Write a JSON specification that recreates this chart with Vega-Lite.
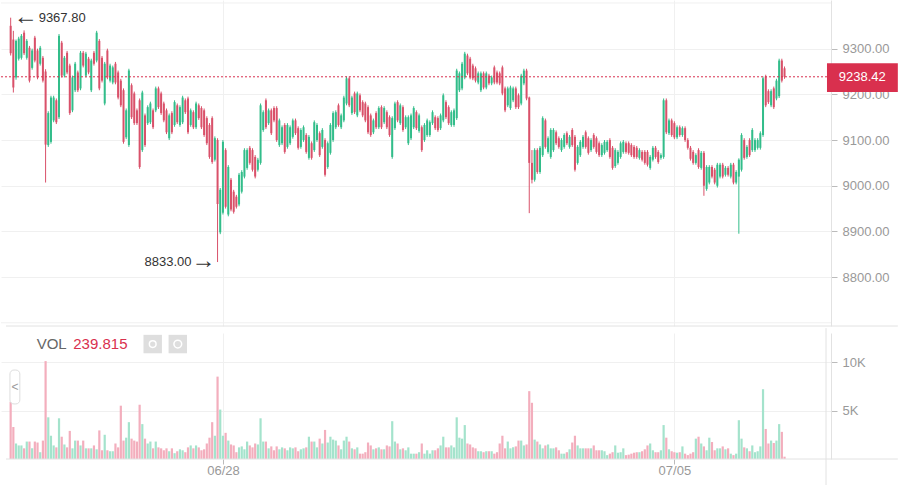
{
  "$schema": "https://vega.github.io/schema/vega-lite/v6.json",
  "padding": 0,
  "autosize": {"type": "pad"},
  "background": "white",
  "spacing": 0,
  "config": {
    "view": {"stroke": null},
    "font": "Liberation Sans",
    "axis": {"labelFont": "Liberation Sans", "labelColor": "#999999", "labelFontSize": 13, "gridColor": "#f0f0f0", "tickColor": "#bbbbbb", "domainColor": "#e2e2e2"}
  },
  "data": {"values": [
    {"t":"2020-06-24T17:00","o":9350,"h":9367.8,"l":9285,"c":9290,"v":5900},
    {"t":"2020-06-24T18:00","o":9320,"h":9339,"l":9204,"c":9215,"v":3300},
    {"t":"2020-06-24T19:00","o":9237,"h":9320,"l":9232,"c":9317,"v":1600},
    {"t":"2020-06-24T20:00","o":9278,"h":9326,"l":9274,"c":9322,"v":1400},
    {"t":"2020-06-24T21:00","o":9280,"h":9332,"l":9276,"c":9328,"v":1400},
    {"t":"2020-06-24T22:00","o":9335,"h":9340,"l":9286,"c":9290,"v":1100},
    {"t":"2020-06-24T23:00","o":9280,"h":9321,"l":9276,"c":9317,"v":1800},
    {"t":"2020-06-25T00:00","o":9302,"h":9306,"l":9226,"c":9230,"v":1800},
    {"t":"2020-06-25T01:00","o":9258,"h":9300,"l":9254,"c":9296,"v":1100},
    {"t":"2020-06-25T02:00","o":9324,"h":9328,"l":9270,"c":9274,"v":1800},
    {"t":"2020-06-25T03:00","o":9296,"h":9300,"l":9233,"c":9237,"v":1700},
    {"t":"2020-06-25T04:00","o":9267,"h":9306,"l":9263,"c":9302,"v":700},
    {"t":"2020-06-25T05:00","o":9280,"h":9284,"l":9226,"c":9230,"v":1900},
    {"t":"2020-06-25T06:00","o":9250,"h":9255,"l":9007,"c":9090,"v":10100},
    {"t":"2020-06-25T07:00","o":9089,"h":9163,"l":9085,"c":9159,"v":4300},
    {"t":"2020-06-25T08:00","o":9096,"h":9197,"l":9092,"c":9193,"v":2400},
    {"t":"2020-06-25T09:00","o":9143,"h":9197,"l":9139,"c":9193,"v":1400},
    {"t":"2020-06-25T10:00","o":9187,"h":9191,"l":9135,"c":9139,"v":1200},
    {"t":"2020-06-25T11:00","o":9150,"h":9332,"l":9146,"c":9328,"v":4200},
    {"t":"2020-06-25T12:00","o":9313,"h":9317,"l":9237,"c":9241,"v":2300},
    {"t":"2020-06-25T13:00","o":9241,"h":9284,"l":9237,"c":9280,"v":1500},
    {"t":"2020-06-25T14:00","o":9291,"h":9295,"l":9244,"c":9248,"v":1200},
    {"t":"2020-06-25T15:00","o":9263,"h":9267,"l":9155,"c":9159,"v":2900},
    {"t":"2020-06-25T16:00","o":9165,"h":9241,"l":9161,"c":9237,"v":1100},
    {"t":"2020-06-25T17:00","o":9209,"h":9271,"l":9205,"c":9267,"v":1900},
    {"t":"2020-06-25T18:00","o":9248,"h":9252,"l":9205,"c":9209,"v":1900},
    {"t":"2020-06-25T19:00","o":9213,"h":9295,"l":9209,"c":9291,"v":1400},
    {"t":"2020-06-25T20:00","o":9291,"h":9295,"l":9259,"c":9263,"v":1900},
    {"t":"2020-06-25T21:00","o":9241,"h":9293,"l":9237,"c":9289,"v":1100},
    {"t":"2020-06-25T22:00","o":9278,"h":9282,"l":9244,"c":9248,"v":1100},
    {"t":"2020-06-25T23:00","o":9209,"h":9278,"l":9205,"c":9274,"v":1100},
    {"t":"2020-06-26T00:00","o":9291,"h":9295,"l":9263,"c":9267,"v":1400},
    {"t":"2020-06-26T01:00","o":9274,"h":9339,"l":9270,"c":9335,"v":1000},
    {"t":"2020-06-26T02:00","o":9317,"h":9321,"l":9209,"c":9213,"v":2950},
    {"t":"2020-06-26T03:00","o":9280,"h":9284,"l":9226,"c":9230,"v":900},
    {"t":"2020-06-26T04:00","o":9180,"h":9271,"l":9176,"c":9267,"v":2500},
    {"t":"2020-06-26T05:00","o":9296,"h":9300,"l":9233,"c":9237,"v":900},
    {"t":"2020-06-26T06:00","o":9230,"h":9267,"l":9226,"c":9263,"v":800},
    {"t":"2020-06-26T07:00","o":9226,"h":9263,"l":9222,"c":9259,"v":800},
    {"t":"2020-06-26T08:00","o":9267,"h":9271,"l":9222,"c":9226,"v":1600},
    {"t":"2020-06-26T09:00","o":9248,"h":9252,"l":9189,"c":9193,"v":1200},
    {"t":"2020-06-26T10:00","o":9230,"h":9234,"l":9172,"c":9176,"v":5500},
    {"t":"2020-06-26T11:00","o":9209,"h":9213,"l":9092,"c":9096,"v":1900},
    {"t":"2020-06-26T12:00","o":9106,"h":9169,"l":9102,"c":9165,"v":2200},
    {"t":"2020-06-26T13:00","o":9089,"h":9256,"l":9085,"c":9252,"v":3800},
    {"t":"2020-06-26T14:00","o":9220,"h":9224,"l":9146,"c":9150,"v":2100},
    {"t":"2020-06-26T15:00","o":9202,"h":9206,"l":9133,"c":9137,"v":1900},
    {"t":"2020-06-26T16:00","o":9165,"h":9169,"l":9133,"c":9137,"v":1800},
    {"t":"2020-06-26T17:00","o":9187,"h":9191,"l":9037,"c":9041,"v":5600},
    {"t":"2020-06-26T18:00","o":9078,"h":9208,"l":9074,"c":9204,"v":3600},
    {"t":"2020-06-26T19:00","o":9154,"h":9158,"l":9085,"c":9089,"v":2100},
    {"t":"2020-06-26T20:00","o":9137,"h":9176,"l":9133,"c":9172,"v":1600},
    {"t":"2020-06-26T21:00","o":9139,"h":9184,"l":9135,"c":9180,"v":1800},
    {"t":"2020-06-26T22:00","o":9165,"h":9169,"l":9124,"c":9128,"v":1100},
    {"t":"2020-06-26T23:00","o":9165,"h":9217,"l":9161,"c":9213,"v":1800},
    {"t":"2020-06-27T00:00","o":9213,"h":9217,"l":9168,"c":9172,"v":1200},
    {"t":"2020-06-27T01:00","o":9202,"h":9206,"l":9155,"c":9159,"v":1100},
    {"t":"2020-06-27T02:00","o":9180,"h":9184,"l":9139,"c":9143,"v":900},
    {"t":"2020-06-27T03:00","o":9165,"h":9169,"l":9113,"c":9117,"v":1100},
    {"t":"2020-06-27T04:00","o":9104,"h":9158,"l":9100,"c":9154,"v":800},
    {"t":"2020-06-27T05:00","o":9159,"h":9163,"l":9113,"c":9117,"v":1100},
    {"t":"2020-06-27T06:00","o":9133,"h":9187,"l":9129,"c":9183,"v":600},
    {"t":"2020-06-27T07:00","o":9176,"h":9180,"l":9135,"c":9139,"v":800},
    {"t":"2020-06-27T08:00","o":9133,"h":9176,"l":9129,"c":9172,"v":1000},
    {"t":"2020-06-27T09:00","o":9139,"h":9197,"l":9135,"c":9193,"v":900},
    {"t":"2020-06-27T10:00","o":9187,"h":9191,"l":9157,"c":9161,"v":700},
    {"t":"2020-06-27T11:00","o":9191,"h":9195,"l":9113,"c":9117,"v":1200},
    {"t":"2020-06-27T12:00","o":9133,"h":9169,"l":9129,"c":9165,"v":1400},
    {"t":"2020-06-27T13:00","o":9161,"h":9165,"l":9124,"c":9128,"v":1100},
    {"t":"2020-06-27T14:00","o":9128,"h":9184,"l":9124,"c":9180,"v":1400},
    {"t":"2020-06-27T15:00","o":9176,"h":9180,"l":9144,"c":9148,"v":1200},
    {"t":"2020-06-27T16:00","o":9170,"h":9174,"l":9124,"c":9128,"v":900},
    {"t":"2020-06-27T17:00","o":9165,"h":9169,"l":9107,"c":9111,"v":1000},
    {"t":"2020-06-27T18:00","o":9148,"h":9152,"l":9089,"c":9093,"v":1600},
    {"t":"2020-06-27T19:00","o":9133,"h":9137,"l":9059,"c":9063,"v":2200},
    {"t":"2020-06-27T20:00","o":9148,"h":9152,"l":9048,"c":9052,"v":3800},
    {"t":"2020-06-27T21:00","o":9057,"h":9108,"l":9053,"c":9104,"v":2400},
    {"t":"2020-06-27T22:00","o":9100,"h":9104,"l":8833,"c":8960,"v":8500},
    {"t":"2020-06-27T23:00","o":8898,"h":8995,"l":8894,"c":8991,"v":5100},
    {"t":"2020-06-28T00:00","o":8941,"h":9100,"l":8937,"c":9096,"v":2400},
    {"t":"2020-06-28T01:00","o":9078,"h":9082,"l":8950,"c":8954,"v":2700},
    {"t":"2020-06-28T02:00","o":8937,"h":9045,"l":8933,"c":9041,"v":1900},
    {"t":"2020-06-28T03:00","o":9013,"h":9017,"l":8944,"c":8948,"v":1500},
    {"t":"2020-06-28T04:00","o":8987,"h":8991,"l":8939,"c":8943,"v":1400},
    {"t":"2020-06-28T05:00","o":8976,"h":8980,"l":8950,"c":8954,"v":700},
    {"t":"2020-06-28T06:00","o":8959,"h":9028,"l":8955,"c":9024,"v":1200},
    {"t":"2020-06-28T07:00","o":8987,"h":9034,"l":8983,"c":9030,"v":1300},
    {"t":"2020-06-28T08:00","o":9020,"h":9082,"l":9016,"c":9078,"v":1000},
    {"t":"2020-06-28T09:00","o":9039,"h":9082,"l":9035,"c":9078,"v":1800},
    {"t":"2020-06-28T10:00","o":9083,"h":9087,"l":9046,"c":9050,"v":1400},
    {"t":"2020-06-28T11:00","o":9078,"h":9082,"l":9031,"c":9035,"v":1200},
    {"t":"2020-06-28T12:00","o":9063,"h":9067,"l":9016,"c":9020,"v":1600},
    {"t":"2020-06-28T13:00","o":9035,"h":9061,"l":9031,"c":9057,"v":1500},
    {"t":"2020-06-28T14:00","o":9050,"h":9180,"l":9046,"c":9176,"v":4200},
    {"t":"2020-06-28T15:00","o":9122,"h":9165,"l":9118,"c":9161,"v":1800},
    {"t":"2020-06-28T16:00","o":9187,"h":9191,"l":9124,"c":9128,"v":1800},
    {"t":"2020-06-28T17:00","o":9137,"h":9169,"l":9133,"c":9165,"v":1100},
    {"t":"2020-06-28T18:00","o":9165,"h":9169,"l":9111,"c":9115,"v":1300},
    {"t":"2020-06-28T19:00","o":9170,"h":9174,"l":9139,"c":9143,"v":900},
    {"t":"2020-06-28T20:00","o":9170,"h":9174,"l":9096,"c":9100,"v":1300},
    {"t":"2020-06-28T21:00","o":9089,"h":9147,"l":9085,"c":9143,"v":1000},
    {"t":"2020-06-28T22:00","o":9093,"h":9132,"l":9089,"c":9128,"v":1200},
    {"t":"2020-06-28T23:00","o":9133,"h":9137,"l":9070,"c":9074,"v":1100},
    {"t":"2020-06-29T00:00","o":9085,"h":9137,"l":9081,"c":9133,"v":900},
    {"t":"2020-06-29T01:00","o":9093,"h":9132,"l":9089,"c":9128,"v":1200},
    {"t":"2020-06-29T02:00","o":9107,"h":9147,"l":9103,"c":9143,"v":1100},
    {"t":"2020-06-29T03:00","o":9143,"h":9147,"l":9111,"c":9115,"v":1200},
    {"t":"2020-06-29T04:00","o":9126,"h":9130,"l":9079,"c":9083,"v":800},
    {"t":"2020-06-29T05:00","o":9085,"h":9126,"l":9081,"c":9122,"v":1000},
    {"t":"2020-06-29T06:00","o":9100,"h":9132,"l":9096,"c":9128,"v":1100},
    {"t":"2020-06-29T07:00","o":9111,"h":9115,"l":9070,"c":9074,"v":1200},
    {"t":"2020-06-29T08:00","o":9061,"h":9111,"l":9057,"c":9107,"v":2300},
    {"t":"2020-06-29T09:00","o":9093,"h":9097,"l":9057,"c":9061,"v":1800},
    {"t":"2020-06-29T10:00","o":9078,"h":9143,"l":9074,"c":9139,"v":1800},
    {"t":"2020-06-29T11:00","o":9100,"h":9137,"l":9096,"c":9133,"v":1200},
    {"t":"2020-06-29T12:00","o":9115,"h":9119,"l":9063,"c":9067,"v":2100},
    {"t":"2020-06-29T13:00","o":9085,"h":9126,"l":9081,"c":9122,"v":1600},
    {"t":"2020-06-29T14:00","o":9100,"h":9104,"l":9020,"c":9024,"v":3000},
    {"t":"2020-06-29T15:00","o":9041,"h":9097,"l":9037,"c":9093,"v":1700},
    {"t":"2020-06-29T16:00","o":9072,"h":9137,"l":9068,"c":9133,"v":2300},
    {"t":"2020-06-29T17:00","o":9100,"h":9163,"l":9096,"c":9159,"v":2000},
    {"t":"2020-06-29T18:00","o":9128,"h":9165,"l":9124,"c":9161,"v":1900},
    {"t":"2020-06-29T19:00","o":9176,"h":9180,"l":9129,"c":9133,"v":1400},
    {"t":"2020-06-29T20:00","o":9128,"h":9158,"l":9124,"c":9154,"v":1000},
    {"t":"2020-06-29T21:00","o":9143,"h":9197,"l":9139,"c":9193,"v":1900},
    {"t":"2020-06-29T22:00","o":9180,"h":9239,"l":9176,"c":9235,"v":2300},
    {"t":"2020-06-29T23:00","o":9235,"h":9239,"l":9172,"c":9176,"v":1800},
    {"t":"2020-06-30T00:00","o":9159,"h":9197,"l":9155,"c":9193,"v":1100},
    {"t":"2020-06-30T01:00","o":9202,"h":9206,"l":9157,"c":9161,"v":1000},
    {"t":"2020-06-30T02:00","o":9154,"h":9206,"l":9150,"c":9202,"v":1200},
    {"t":"2020-06-30T03:00","o":9198,"h":9202,"l":9161,"c":9165,"v":550},
    {"t":"2020-06-30T04:00","o":9183,"h":9187,"l":9150,"c":9154,"v":550},
    {"t":"2020-06-30T05:00","o":9180,"h":9184,"l":9139,"c":9143,"v":700},
    {"t":"2020-06-30T06:00","o":9172,"h":9176,"l":9113,"c":9117,"v":1700},
    {"t":"2020-06-30T07:00","o":9154,"h":9158,"l":9107,"c":9111,"v":1400},
    {"t":"2020-06-30T08:00","o":9117,"h":9147,"l":9113,"c":9143,"v":1000},
    {"t":"2020-06-30T09:00","o":9159,"h":9163,"l":9124,"c":9128,"v":1100},
    {"t":"2020-06-30T10:00","o":9128,"h":9174,"l":9124,"c":9170,"v":1200},
    {"t":"2020-06-30T11:00","o":9172,"h":9176,"l":9124,"c":9128,"v":1000},
    {"t":"2020-06-30T12:00","o":9139,"h":9174,"l":9135,"c":9170,"v":1000},
    {"t":"2020-06-30T13:00","o":9161,"h":9165,"l":9124,"c":9128,"v":1400},
    {"t":"2020-06-30T14:00","o":9150,"h":9154,"l":9107,"c":9111,"v":1300},
    {"t":"2020-06-30T15:00","o":9063,"h":9152,"l":9059,"c":9148,"v":3900},
    {"t":"2020-06-30T16:00","o":9126,"h":9184,"l":9122,"c":9180,"v":1800},
    {"t":"2020-06-30T17:00","o":9183,"h":9187,"l":9139,"c":9143,"v":1600},
    {"t":"2020-06-30T18:00","o":9137,"h":9180,"l":9133,"c":9176,"v":1000},
    {"t":"2020-06-30T19:00","o":9172,"h":9176,"l":9118,"c":9122,"v":1100},
    {"t":"2020-06-30T20:00","o":9128,"h":9154,"l":9124,"c":9150,"v":900},
    {"t":"2020-06-30T21:00","o":9093,"h":9154,"l":9089,"c":9150,"v":1200},
    {"t":"2020-06-30T22:00","o":9104,"h":9158,"l":9100,"c":9154,"v":550},
    {"t":"2020-06-30T23:00","o":9128,"h":9174,"l":9124,"c":9170,"v":550},
    {"t":"2020-07-01T00:00","o":9161,"h":9165,"l":9122,"c":9126,"v":550},
    {"t":"2020-07-01T01:00","o":9120,"h":9158,"l":9116,"c":9154,"v":700},
    {"t":"2020-07-01T02:00","o":9128,"h":9132,"l":9074,"c":9078,"v":1600},
    {"t":"2020-07-01T03:00","o":9100,"h":9137,"l":9096,"c":9133,"v":550},
    {"t":"2020-07-01T04:00","o":9111,"h":9147,"l":9107,"c":9143,"v":900},
    {"t":"2020-07-01T05:00","o":9111,"h":9143,"l":9107,"c":9139,"v":550},
    {"t":"2020-07-01T06:00","o":9137,"h":9165,"l":9133,"c":9161,"v":900},
    {"t":"2020-07-01T07:00","o":9150,"h":9154,"l":9122,"c":9126,"v":900},
    {"t":"2020-07-01T08:00","o":9148,"h":9152,"l":9118,"c":9122,"v":1100},
    {"t":"2020-07-01T09:00","o":9126,"h":9158,"l":9122,"c":9154,"v":1400},
    {"t":"2020-07-01T10:00","o":9143,"h":9202,"l":9139,"c":9198,"v":2300},
    {"t":"2020-07-01T11:00","o":9183,"h":9187,"l":9146,"c":9150,"v":1200},
    {"t":"2020-07-01T12:00","o":9172,"h":9176,"l":9133,"c":9137,"v":1200},
    {"t":"2020-07-01T13:00","o":9133,"h":9165,"l":9129,"c":9161,"v":1400},
    {"t":"2020-07-01T14:00","o":9133,"h":9169,"l":9129,"c":9165,"v":1200},
    {"t":"2020-07-01T15:00","o":9148,"h":9256,"l":9144,"c":9252,"v":4300},
    {"t":"2020-07-01T16:00","o":9209,"h":9250,"l":9205,"c":9246,"v":2200},
    {"t":"2020-07-01T17:00","o":9213,"h":9271,"l":9209,"c":9267,"v":2100},
    {"t":"2020-07-01T18:00","o":9237,"h":9293,"l":9233,"c":9289,"v":3500},
    {"t":"2020-07-01T19:00","o":9285,"h":9289,"l":9242,"c":9246,"v":1600},
    {"t":"2020-07-01T20:00","o":9278,"h":9282,"l":9233,"c":9237,"v":1500},
    {"t":"2020-07-01T21:00","o":9263,"h":9267,"l":9231,"c":9235,"v":1200},
    {"t":"2020-07-01T22:00","o":9257,"h":9261,"l":9226,"c":9230,"v":1100},
    {"t":"2020-07-01T23:00","o":9226,"h":9250,"l":9222,"c":9246,"v":800},
    {"t":"2020-07-02T00:00","o":9209,"h":9250,"l":9205,"c":9246,"v":800},
    {"t":"2020-07-02T01:00","o":9246,"h":9250,"l":9211,"c":9215,"v":700},
    {"t":"2020-07-02T02:00","o":9215,"h":9250,"l":9211,"c":9246,"v":800},
    {"t":"2020-07-02T03:00","o":9241,"h":9245,"l":9220,"c":9224,"v":800},
    {"t":"2020-07-02T04:00","o":9224,"h":9241,"l":9220,"c":9237,"v":800},
    {"t":"2020-07-02T05:00","o":9259,"h":9263,"l":9222,"c":9226,"v":550},
    {"t":"2020-07-02T06:00","o":9248,"h":9252,"l":9222,"c":9226,"v":700},
    {"t":"2020-07-02T07:00","o":9246,"h":9250,"l":9220,"c":9224,"v":1600},
    {"t":"2020-07-02T08:00","o":9259,"h":9263,"l":9198,"c":9202,"v":2400},
    {"t":"2020-07-02T09:00","o":9213,"h":9217,"l":9161,"c":9165,"v":1100},
    {"t":"2020-07-02T10:00","o":9176,"h":9217,"l":9172,"c":9213,"v":1800},
    {"t":"2020-07-02T11:00","o":9170,"h":9219,"l":9166,"c":9215,"v":1100},
    {"t":"2020-07-02T12:00","o":9187,"h":9217,"l":9183,"c":9213,"v":1200},
    {"t":"2020-07-02T13:00","o":9213,"h":9217,"l":9168,"c":9172,"v":1300},
    {"t":"2020-07-02T14:00","o":9198,"h":9202,"l":9168,"c":9172,"v":1900},
    {"t":"2020-07-02T15:00","o":9180,"h":9245,"l":9176,"c":9241,"v":1900},
    {"t":"2020-07-02T16:00","o":9224,"h":9256,"l":9220,"c":9252,"v":1400},
    {"t":"2020-07-02T17:00","o":9252,"h":9256,"l":9187,"c":9191,"v":1500},
    {"t":"2020-07-02T18:00","o":9193,"h":9195,"l":8940,"c":9050,"v":7000},
    {"t":"2020-07-02T19:00","o":9050,"h":9078,"l":9005,"c":9013,"v":5800},
    {"t":"2020-07-02T20:00","o":9013,"h":9082,"l":9009,"c":9078,"v":2000},
    {"t":"2020-07-02T21:00","o":9078,"h":9082,"l":9026,"c":9030,"v":1800},
    {"t":"2020-07-02T22:00","o":9030,"h":9087,"l":9026,"c":9083,"v":1500},
    {"t":"2020-07-02T23:00","o":9067,"h":9152,"l":9063,"c":9148,"v":1100},
    {"t":"2020-07-03T00:00","o":9143,"h":9147,"l":9081,"c":9085,"v":1400},
    {"t":"2020-07-03T01:00","o":9074,"h":9108,"l":9070,"c":9104,"v":1500},
    {"t":"2020-07-03T02:00","o":9063,"h":9126,"l":9059,"c":9122,"v":1100},
    {"t":"2020-07-03T03:00","o":9078,"h":9126,"l":9074,"c":9122,"v":1100},
    {"t":"2020-07-03T04:00","o":9117,"h":9121,"l":9089,"c":9093,"v":1200},
    {"t":"2020-07-03T05:00","o":9104,"h":9108,"l":9081,"c":9085,"v":900},
    {"t":"2020-07-03T06:00","o":9078,"h":9104,"l":9074,"c":9100,"v":550},
    {"t":"2020-07-03T07:00","o":9085,"h":9115,"l":9081,"c":9111,"v":550},
    {"t":"2020-07-03T08:00","o":9115,"h":9119,"l":9089,"c":9093,"v":700},
    {"t":"2020-07-03T09:00","o":9085,"h":9111,"l":9081,"c":9107,"v":1000},
    {"t":"2020-07-03T10:00","o":9122,"h":9126,"l":9085,"c":9089,"v":1700},
    {"t":"2020-07-03T11:00","o":9107,"h":9111,"l":9031,"c":9035,"v":2400},
    {"t":"2020-07-03T12:00","o":9050,"h":9089,"l":9046,"c":9085,"v":1400},
    {"t":"2020-07-03T13:00","o":9067,"h":9100,"l":9063,"c":9096,"v":1100},
    {"t":"2020-07-03T14:00","o":9085,"h":9111,"l":9081,"c":9107,"v":1100},
    {"t":"2020-07-03T15:00","o":9117,"h":9121,"l":9081,"c":9085,"v":1100},
    {"t":"2020-07-03T16:00","o":9104,"h":9108,"l":9068,"c":9072,"v":1100},
    {"t":"2020-07-03T17:00","o":9078,"h":9104,"l":9074,"c":9100,"v":1100},
    {"t":"2020-07-03T18:00","o":9111,"h":9115,"l":9081,"c":9085,"v":1400},
    {"t":"2020-07-03T19:00","o":9104,"h":9108,"l":9070,"c":9074,"v":900},
    {"t":"2020-07-03T20:00","o":9093,"h":9097,"l":9063,"c":9067,"v":900},
    {"t":"2020-07-03T21:00","o":9067,"h":9093,"l":9063,"c":9089,"v":900},
    {"t":"2020-07-03T22:00","o":9072,"h":9100,"l":9068,"c":9096,"v":800},
    {"t":"2020-07-03T23:00","o":9078,"h":9100,"l":9074,"c":9096,"v":400},
    {"t":"2020-07-04T00:00","o":9100,"h":9104,"l":9059,"c":9063,"v":550},
    {"t":"2020-07-04T01:00","o":9083,"h":9087,"l":9035,"c":9039,"v":700},
    {"t":"2020-07-04T02:00","o":9043,"h":9082,"l":9039,"c":9078,"v":1400},
    {"t":"2020-07-04T03:00","o":9050,"h":9078,"l":9046,"c":9074,"v":650},
    {"t":"2020-07-04T04:00","o":9063,"h":9097,"l":9059,"c":9093,"v":700},
    {"t":"2020-07-04T05:00","o":9074,"h":9100,"l":9070,"c":9096,"v":1100},
    {"t":"2020-07-04T06:00","o":9093,"h":9097,"l":9070,"c":9074,"v":400},
    {"t":"2020-07-04T07:00","o":9093,"h":9097,"l":9068,"c":9072,"v":450},
    {"t":"2020-07-04T08:00","o":9089,"h":9093,"l":9063,"c":9067,"v":550},
    {"t":"2020-07-04T09:00","o":9085,"h":9089,"l":9059,"c":9063,"v":650},
    {"t":"2020-07-04T10:00","o":9083,"h":9087,"l":9059,"c":9063,"v":700},
    {"t":"2020-07-04T11:00","o":9061,"h":9082,"l":9057,"c":9078,"v":700},
    {"t":"2020-07-04T12:00","o":9074,"h":9078,"l":9053,"c":9057,"v":800},
    {"t":"2020-07-04T13:00","o":9074,"h":9078,"l":9046,"c":9050,"v":1000},
    {"t":"2020-07-04T14:00","o":9074,"h":9078,"l":9042,"c":9046,"v":1400},
    {"t":"2020-07-04T15:00","o":9039,"h":9067,"l":9035,"c":9063,"v":1600},
    {"t":"2020-07-04T16:00","o":9057,"h":9087,"l":9053,"c":9083,"v":900},
    {"t":"2020-07-04T17:00","o":9083,"h":9087,"l":9059,"c":9063,"v":700},
    {"t":"2020-07-04T18:00","o":9074,"h":9078,"l":9048,"c":9052,"v":700},
    {"t":"2020-07-04T19:00","o":9061,"h":9071,"l":9057,"c":9067,"v":900},
    {"t":"2020-07-04T20:00","o":9063,"h":9191,"l":9059,"c":9187,"v":3500},
    {"t":"2020-07-04T21:00","o":9187,"h":9191,"l":9113,"c":9117,"v":2200},
    {"t":"2020-07-04T22:00","o":9115,"h":9147,"l":9111,"c":9143,"v":1000},
    {"t":"2020-07-04T23:00","o":9143,"h":9147,"l":9107,"c":9111,"v":800},
    {"t":"2020-07-05T00:00","o":9137,"h":9141,"l":9102,"c":9106,"v":700},
    {"t":"2020-07-05T01:00","o":9106,"h":9132,"l":9102,"c":9128,"v":650},
    {"t":"2020-07-05T02:00","o":9128,"h":9132,"l":9107,"c":9111,"v":700},
    {"t":"2020-07-05T03:00","o":9111,"h":9130,"l":9107,"c":9126,"v":1300},
    {"t":"2020-07-05T04:00","o":9126,"h":9130,"l":9096,"c":9100,"v":550},
    {"t":"2020-07-05T05:00","o":9100,"h":9104,"l":9079,"c":9083,"v":400},
    {"t":"2020-07-05T06:00","o":9083,"h":9087,"l":9055,"c":9059,"v":550},
    {"t":"2020-07-05T07:00","o":9074,"h":9078,"l":9046,"c":9050,"v":700},
    {"t":"2020-07-05T08:00","o":9050,"h":9071,"l":9046,"c":9067,"v":2100},
    {"t":"2020-07-05T09:00","o":9078,"h":9082,"l":9037,"c":9041,"v":2300},
    {"t":"2020-07-05T10:00","o":9039,"h":9076,"l":9035,"c":9072,"v":1600},
    {"t":"2020-07-05T11:00","o":9072,"h":9076,"l":8978,"c":9000,"v":1300},
    {"t":"2020-07-05T12:00","o":8993,"h":9045,"l":8989,"c":9041,"v":900},
    {"t":"2020-07-05T13:00","o":9007,"h":9045,"l":9003,"c":9041,"v":2200},
    {"t":"2020-07-05T14:00","o":9041,"h":9045,"l":9016,"c":9020,"v":1750},
    {"t":"2020-07-05T15:00","o":9035,"h":9039,"l":9003,"c":9007,"v":900},
    {"t":"2020-07-05T16:00","o":9000,"h":9050,"l":8996,"c":9046,"v":1100},
    {"t":"2020-07-05T17:00","o":9020,"h":9050,"l":9016,"c":9046,"v":1100},
    {"t":"2020-07-05T18:00","o":9046,"h":9050,"l":9016,"c":9020,"v":1300},
    {"t":"2020-07-05T19:00","o":9024,"h":9043,"l":9020,"c":9039,"v":1000},
    {"t":"2020-07-05T20:00","o":9039,"h":9043,"l":9020,"c":9024,"v":1100},
    {"t":"2020-07-05T21:00","o":9020,"h":9050,"l":9016,"c":9046,"v":550},
    {"t":"2020-07-05T22:00","o":9046,"h":9050,"l":9003,"c":9007,"v":400},
    {"t":"2020-07-05T23:00","o":9007,"h":9034,"l":9003,"c":9030,"v":550},
    {"t":"2020-07-06T00:00","o":9020,"h":9060,"l":8895,"c":9057,"v":4000},
    {"t":"2020-07-06T01:00","o":9035,"h":9115,"l":9031,"c":9111,"v":2100},
    {"t":"2020-07-06T02:00","o":9100,"h":9104,"l":9057,"c":9061,"v":1200},
    {"t":"2020-07-06T03:00","o":9063,"h":9089,"l":9059,"c":9085,"v":1100},
    {"t":"2020-07-06T04:00","o":9100,"h":9104,"l":9063,"c":9067,"v":800},
    {"t":"2020-07-06T05:00","o":9078,"h":9126,"l":9074,"c":9122,"v":1400},
    {"t":"2020-07-06T06:00","o":9078,"h":9104,"l":9074,"c":9100,"v":700},
    {"t":"2020-07-06T07:00","o":9083,"h":9104,"l":9079,"c":9100,"v":800},
    {"t":"2020-07-06T08:00","o":9083,"h":9119,"l":9079,"c":9115,"v":1300},
    {"t":"2020-07-06T09:00","o":9111,"h":9239,"l":9107,"c":9235,"v":7200},
    {"t":"2020-07-06T10:00","o":9239,"h":9243,"l":9172,"c":9176,"v":3100},
    {"t":"2020-07-06T11:00","o":9207,"h":9211,"l":9179,"c":9183,"v":1600},
    {"t":"2020-07-06T12:00","o":9176,"h":9211,"l":9172,"c":9207,"v":1900},
    {"t":"2020-07-06T13:00","o":9213,"h":9217,"l":9168,"c":9172,"v":1650},
    {"t":"2020-07-06T14:00","o":9191,"h":9234,"l":9187,"c":9230,"v":1900},
    {"t":"2020-07-06T15:00","o":9196,"h":9278,"l":9192,"c":9274,"v":3600},
    {"t":"2020-07-06T16:00","o":9274,"h":9278,"l":9226,"c":9230,"v":2800},
    {"t":"2020-07-06T17:00","o":9257,"h":9261,"l":9234,"c":9238.42,"v":239.815}
  ]},
  "vconcat": [
    {
      "width": 830,
      "height": 326,
      "layer": [
        {
          "data": {"values": [{}]},
          "mark": {"type": "rule", "color": "#f0f0f0"},
          "encoding": {"y": {"datum": 9400}}
        },
        {
          "data": {"values": [{}]},
          "mark": {"type": "rule", "color": "#f0f0f0"},
          "encoding": {"y": {"datum": 8700}}
        },
        {
          "mark": {"type": "rule", "strokeWidth": 1},
          "encoding": {
            "x": {"field": "t", "type": "temporal",
              "scale": {"domain": [{"year": 2020, "month": 6, "date": 24, "hours": 15, "minutes": 16}, {"year": 2020, "month": 7, "date": 7, "hours": 8, "minutes": 26}]},
              "axis": {"values": [{"year": 2020, "month": 6, "date": 28}, {"year": 2020, "month": 7, "date": 5}], "labels": false, "ticks": false, "domain": false, "grid": true, "title": null, "tickSize": 0, "labelPadding": 0}},
            "y": {"field": "l", "type": "quantitative",
              "scale": {"domain": [8693, 9406.5], "nice": false, "zero": false},
              "axis": {"orient": "right", "title": null, "values": [8800, 8900, 9000, 9100, 9200, 9300], "format": ".2f", "tickSize": 6, "labelPadding": 5, "grid": true}},
            "y2": {"field": "h"},
            "color": {"condition": {"test": "datum.c >= datum.o", "value": "#32bd8a"}, "value": "#d9516a"}
          }
        },
        {
          "mark": {"type": "bar", "size": 2},
          "encoding": {
            "x": {"field": "t", "type": "temporal"},
            "y": {"field": "o", "type": "quantitative"},
            "y2": {"field": "c"},
            "color": {"condition": {"test": "datum.c >= datum.o", "value": "#32bd8a"}, "value": "#d9516a"}
          }
        },
        {
          "data": {"values": [{}]},
          "mark": {"type": "rule", "color": "#d9304e", "strokeDash": [2, 2], "strokeWidth": 1},
          "encoding": {"y": {"datum": 9238.42}}
        },
        {
          "data": {"values": [{}]},
          "mark": {"type": "rule", "color": "#e2e2e2"},
          "encoding": {
            "x": {"datum": {"year": 2020, "month": 6, "date": 24, "hours": 15, "minutes": 16}, "type": "temporal"},
            "x2": {"datum": {"year": 2020, "month": 7, "date": 8, "hours": 11, "minutes": 10}},
            "y": {"datum": 8693}
          }
        },
        {
          "data": {"values": [{}]},
          "mark": {"type": "rect", "color": "#d9304e"},
          "encoding": {
            "x": {"datum": {"year": 2020, "month": 7, "date": 7, "hours": 8, "minutes": 48}, "type": "temporal"},
            "x2": {"datum": {"year": 2020, "month": 7, "date": 8, "hours": 11, "minutes": 10}},
            "y": {"datum": 9268},
            "y2": {"datum": 9205}
          }
        },
        {
          "data": {"values": [{}]},
          "mark": {"type": "text", "align": "left", "baseline": "middle", "color": "white", "fontSize": 13},
          "encoding": {
            "x": {"datum": {"year": 2020, "month": 7, "date": 7, "hours": 13, "minutes": 12}, "type": "temporal"},
            "y": {"datum": 9238.42},
            "text": {"value": "9238.42"}
          }
        },
        {
          "data": {"values": [{}]},
          "mark": {"type": "text", "align": "left", "baseline": "middle", "color": "#333333", "fontSize": 24, "dx": 3, "dy": -1},
          "encoding": {
            "x": {"datum": {"year": 2020, "month": 6, "date": 24, "hours": 17}, "type": "temporal"},
            "y": {"datum": 9367.8},
            "text": {"value": "←"}
          }
        },
        {
          "data": {"values": [{}]},
          "mark": {"type": "text", "align": "left", "baseline": "middle", "color": "#333333", "fontSize": 13, "dx": 28},
          "encoding": {
            "x": {"datum": {"year": 2020, "month": 6, "date": 24, "hours": 17}, "type": "temporal"},
            "y": {"datum": 9367.8},
            "text": {"value": "9367.80"}
          }
        },
        {
          "data": {"values": [{}]},
          "mark": {"type": "text", "align": "right", "baseline": "middle", "color": "#333333", "fontSize": 24, "dx": -2, "dy": -1},
          "encoding": {
            "x": {"datum": {"year": 2020, "month": 6, "date": 27, "hours": 22}, "type": "temporal"},
            "y": {"datum": 8833},
            "text": {"value": "→"}
          }
        },
        {
          "data": {"values": [{}]},
          "mark": {"type": "text", "align": "right", "baseline": "middle", "color": "#333333", "fontSize": 13, "dx": -26},
          "encoding": {
            "x": {"datum": {"year": 2020, "month": 6, "date": 27, "hours": 22}, "type": "temporal"},
            "y": {"datum": 8833},
            "text": {"value": "8833.00"}
          }
        }
      ]
    },
    {
      "width": 830,
      "height": 126,
      "layer": [
        {
          "mark": {"type": "bar", "size": 2.2},
          "encoding": {
            "x": {"field": "t", "type": "temporal",
              "scale": {"domain": [{"year": 2020, "month": 6, "date": 24, "hours": 15, "minutes": 16}, {"year": 2020, "month": 7, "date": 7, "hours": 8, "minutes": 26}]},
              "axis": {"values": [{"year": 2020, "month": 6, "date": 28}, {"year": 2020, "month": 7, "date": 5}], "format": "%m/%d", "title": null, "grid": true, "domain": false, "tickSize": 5, "labelPadding": 0}},
            "y": {"field": "v", "type": "quantitative",
              "scale": {"domain": [0, 13000], "nice": false},
              "axis": {"orient": "right", "title": null, "values": [5000, 10000], "labelExpr": "(datum.value / 1000) + 'K'", "tickSize": 6, "labelPadding": 5, "grid": true}},
            "color": {"condition": {"test": "datum.c >= datum.o", "value": "#a4e3cc"}, "value": "#f3aebd"}
          }
        },
        {
          "data": {"values": [{}]},
          "mark": {"type": "rule", "color": "#e2e2e2"},
          "encoding": {
            "x": {"datum": {"year": 2020, "month": 6, "date": 24, "hours": 15, "minutes": 16}, "type": "temporal"},
            "x2": {"datum": {"year": 2020, "month": 7, "date": 8, "hours": 11, "minutes": 10}},
            "y": {"datum": 0}
          }
        },
        {
          "data": {"values": [{}]},
          "mark": {"type": "rule", "color": "#e2e2e2"},
          "encoding": {
            "x": {"datum": {"year": 2020, "month": 7, "date": 7, "hours": 8, "minutes": 26}, "type": "temporal"},
            "y": {"datum": -2900},
            "y2": {"datum": 13500}
          }
        },
        {
          "data": {"values": [{}]},
          "mark": {"type": "text", "align": "left", "baseline": "middle", "color": "#666666", "fontSize": 15},
          "encoding": {
            "x": {"datum": {"year": 2020, "month": 6, "date": 25, "hours": 2, "minutes": 40}, "type": "temporal"},
            "y": {"datum": 11860},
            "text": {"value": "VOL"}
          }
        },
        {
          "data": {"values": [{}]},
          "mark": {"type": "text", "align": "left", "baseline": "middle", "color": "#d9304e", "fontSize": 15},
          "encoding": {
            "x": {"datum": {"year": 2020, "month": 6, "date": 25, "hours": 16, "minutes": 18}, "type": "temporal"},
            "y": {"datum": 11860},
            "text": {"value": "239.815"}
          }
        },
        {
          "data": {"values": [{}]},
          "mark": {"type": "point", "shape": "square", "filled": true, "size": 340, "color": "#dedede", "opacity": 1},
          "encoding": {
            "x": {"datum": {"year": 2020, "month": 6, "date": 26, "hours": 21, "minutes": 52}, "type": "temporal"},
            "y": {"datum": 11860}
          }
        },
        {
          "data": {"values": [{}]},
          "mark": {"type": "point", "shape": "square", "filled": true, "size": 340, "color": "#dedede", "opacity": 1},
          "encoding": {
            "x": {"datum": {"year": 2020, "month": 6, "date": 27, "hours": 7, "minutes": 12}, "type": "temporal"},
            "y": {"datum": 11860}
          }
        },
        {
          "data": {"values": [{}]},
          "mark": {"type": "point", "shape": "circle", "filled": false, "size": 45, "color": "white", "strokeWidth": 1.5, "opacity": 1},
          "encoding": {
            "x": {"datum": {"year": 2020, "month": 6, "date": 26, "hours": 21, "minutes": 52}, "type": "temporal"},
            "y": {"datum": 11860}
          }
        },
        {
          "data": {"values": [{}]},
          "mark": {"type": "point", "shape": "circle", "filled": false, "size": 60, "color": "white", "strokeWidth": 1.5, "opacity": 1},
          "encoding": {
            "x": {"datum": {"year": 2020, "month": 6, "date": 27, "hours": 7, "minutes": 12}, "type": "temporal"},
            "y": {"datum": 11860}
          }
        },
        {
          "data": {"values": [{}]},
          "mark": {"type": "rect", "fill": "white", "stroke": "#dddddd", "cornerRadius": 4},
          "encoding": {
            "x": {"datum": {"year": 2020, "month": 6, "date": 24, "hours": 16, "minutes": 44}, "type": "temporal"},
            "x2": {"datum": {"year": 2020, "month": 6, "date": 24, "hours": 20, "minutes": 25}},
            "y": {"datum": 9180},
            "y2": {"datum": 5680}
          }
        },
        {
          "data": {"values": [{}]},
          "mark": {"type": "text", "align": "center", "baseline": "middle", "color": "#999999", "fontSize": 12},
          "encoding": {
            "x": {"datum": {"year": 2020, "month": 6, "date": 24, "hours": 18, "minutes": 35}, "type": "temporal"},
            "y": {"datum": 7430},
            "text": {"value": "<"}
          }
        }
      ]
    }
  ]
}
